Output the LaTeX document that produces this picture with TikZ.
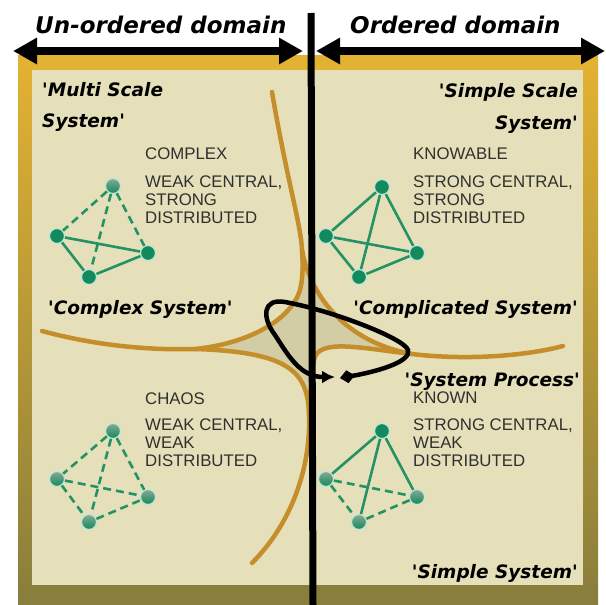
\documentclass[tikz,border=0pt]{standalone}
\usepackage{fontspec}
\setmainfont{Liberation Sans}
\newfontfamily\comic{DejaVu Sans}
\usetikzlibrary{arrows.meta}
\definecolor{gold}{RGB}{228,178,50}
\definecolor{olive}{RGB}{137,126,60}
\definecolor{panel}{RGB}{229,224,186}
\definecolor{centershade}{RGB}{211,205,166}
\definecolor{curvecol}{RGB}{196,142,42}
\definecolor{netgreen}{RGB}{18,138,92}
\definecolor{netedge}{RGB}{36,146,100}
\definecolor{fadetop}{RGB}{135,168,145}
\definecolor{txtgray}{RGB}{48,48,48}
\definecolor{halo}{RGB}{190,230,220}
\tikzset{
  curveline/.style={draw=curvecol, line width=4.5, line cap=round},
  solidnode/.style={circle, fill=netgreen, draw=halo, line width=1.2, minimum size=15, inner sep=0},
  fadenode/.style={circle, top color=fadetop, bottom color=netgreen, draw=halo, line width=1.2, minimum size=15, inner sep=0},
  soledge/.style={draw=netedge, line width=2.6},
  dashedge/.style={soledge, dash pattern=on 8 off 5},
  capstext/.style={font=\fontsize{16.8}{18}\selectfont, text=txtgray, inner sep=0, align=left},
  comicl/.style={font=\comic\bfseries\itshape\fontsize{18.5}{22}\selectfont, inner sep=0},
  titletext/.style={font=\comic\bfseries\itshape\fontsize{23}{26}\selectfont, inner sep=0},
  domarrow/.style={line width=8, {Triangle[length=24pt,width=25pt]}-{Triangle[length=24pt,width=25pt]}},
  looparrow/.style={line width=4.5, {Diamond[length=15pt,width=13pt]}-{Latex[length=13pt,width=13pt]}}
}
\begin{document}
\begin{tikzpicture}[x=1pt,y=-1pt]
\useasboundingbox (0,0) rectangle (606,605);
% frame
\shade[top color=gold, middle color=white, bottom color=olive] (18,55) rectangle (598,604);
\fill[gold] (18,55) rectangle (598,70);
\fill[olive] (18,585) rectangle (598,604);
\fill[panel] (32,70) rectangle (583,585);
% central region
\fill[centershade] (302,250) .. controls (310,295) and (345,342) .. (412,354)
  .. controls (360,348) and (318,338) .. (314,360)
  .. controls (311,380) and (310,395) .. (309,415)
  .. controls (308,372) and (290,352) .. (195,349)
  .. controls (245,344) and (290,322) .. (300,290)
  .. controls (303,278) and (303,265) .. (302,250) -- cycle;
% boundary curves
\draw[curveline] (272,92) .. controls (287,180) and (301,225) .. (302,250)
  .. controls (303,265) and (303,278) .. (300,290)
  .. controls (290,322) and (245,344) .. (195,349)
  .. controls (130,351) and (75,340) .. (42,331);
\draw[curveline] (302,250) .. controls (310,295) and (345,342) .. (412,354);
\draw[curveline] (412,354) .. controls (360,348) and (318,338) .. (314,360)
  .. controls (311,380) and (310,395) .. (309,415);
\draw[curveline] (412,354) .. controls (470,361) and (530,355) .. (563,346);
\draw[curveline] (195,349) .. controls (290,352) and (308,372) .. (309,415)
  .. controls (311,470) and (290,525) .. (252,563);
% networks: complex
\node[fadenode] (c1) at (113,186) {};
\node[solidnode] (c2) at (57,236) {};
\node[solidnode] (c3) at (148,253) {};
\node[solidnode] (c4) at (89,277) {};
\draw[dashedge] (c1) -- (c2);
\draw[dashedge] (c1) -- (c3);
\draw[dashedge] (c1) -- (c4);
\draw[soledge] (c2) -- (c3);
\draw[soledge] (c2) -- (c4);
\draw[soledge] (c4) -- (c3);
% knowable
\node[solidnode] (k1) at (382,187) {};
\node[solidnode] (k2) at (326,236) {};
\node[solidnode] (k3) at (417,253) {};
\node[solidnode] (k4) at (359,277) {};
\draw[soledge] (k1) -- (k2);
\draw[soledge] (k1) -- (k3);
\draw[soledge] (k1) -- (k4);
\draw[soledge] (k2) -- (k3);
\draw[soledge] (k2) -- (k4);
\draw[soledge] (k4) -- (k3);
% chaos
\node[fadenode] (h1) at (113,431) {};
\node[fadenode] (h2) at (57,479) {};
\node[fadenode] (h3) at (148,497) {};
\node[fadenode] (h4) at (89,522) {};
\draw[dashedge] (h1) -- (h2);
\draw[dashedge] (h1) -- (h3);
\draw[dashedge] (h1) -- (h4);
\draw[dashedge] (h2) -- (h3);
\draw[dashedge] (h2) -- (h4);
\draw[dashedge] (h4) -- (h3);
% known
\node[solidnode] (w1) at (382,431) {};
\node[fadenode] (w2) at (326,479) {};
\node[fadenode] (w3) at (417,497) {};
\node[fadenode] (w4) at (359,522) {};
\draw[soledge] (w1) -- (w2);
\draw[soledge] (w1) -- (w3);
\draw[soledge] (w1) -- (w4);
\draw[dashedge] (w2) -- (w3);
\draw[dashedge] (w2) -- (w4);
\draw[dashedge] (w4) -- (w3);
% grey captions
\node[capstext, anchor=base west] (complexT) at (145,159) {COMPLEX};
\node[capstext, anchor=north west] (complexD) at (145,176) {WEAK CENTRAL,\\STRONG\\DISTRIBUTED};
\node[capstext, anchor=base west] (knowT) at (413,159) {KNOWABLE};
\node[capstext, anchor=north west] (knowD) at (413,176) {STRONG CENTRAL,\\STRONG\\DISTRIBUTED};
\node[capstext, anchor=base west] (chaosT) at (145,404) {CHAOS};
\node[capstext, anchor=north west] (chaosD) at (145,419) {WEAK CENTRAL,\\WEAK\\DISTRIBUTED};
\node[capstext, anchor=base west] (knownT) at (413,403) {KNOWN};
\node[capstext, anchor=north west] (knownD) at (413,419) {STRONG CENTRAL,\\WEAK\\DISTRIBUTED};
% comic labels
\node[comicl, align=left, anchor=north west, font=\comic\bfseries\itshape\fontsize{18.5}{31}\selectfont] (multi) at (42,82) {'Multi Scale\\System'};
\node[comicl, align=right, anchor=north east, font=\comic\bfseries\itshape\fontsize{18.5}{32}\selectfont] (simplescale) at (578,83) {'Simple Scale\\System'};
\node[comicl, anchor=base west] (complexsys) at (48,314) {'Complex System'};
\node[comicl, anchor=base east] (complicated) at (578,314) {'Complicated System'};
\node[comicl, anchor=base east] (process) at (580,386) {'System Process'};
\node[comicl, anchor=base east] (simple) at (578,578) {'Simple System'};
% titles
\node[titletext, anchor=base west] (unordered) at (35,33) {Un-ordered domain};
\node[titletext, anchor=base west] (ordered) at (350,33) {Ordered domain};
% divider and domain arrows
\coordinate (vtop) at (311,13);
\coordinate (vbot) at (313,605);
\draw[line width=7] (vtop) -- (vbot);
\coordinate (la) at (13,51);
\coordinate (lb) at (303,51);
\coordinate (ra) at (316,51);
\coordinate (rb) at (605,51);
\draw[domarrow] (la) -- (lb);
\draw[domarrow] (ra) -- (rb);
% process loop
\coordinate (loopS) at (340,378);
\coordinate (loopE) at (335,377);
\draw[looparrow] (loopS) .. controls (375,372) and (412,362) .. (408,350)
  .. controls (404,338) and (330,310) .. (285,302)
  .. controls (262,298) and (262,318) .. (275,335)
  .. controls (288,355) and (300,377) .. (loopE);
\end{tikzpicture}
\end{document}
